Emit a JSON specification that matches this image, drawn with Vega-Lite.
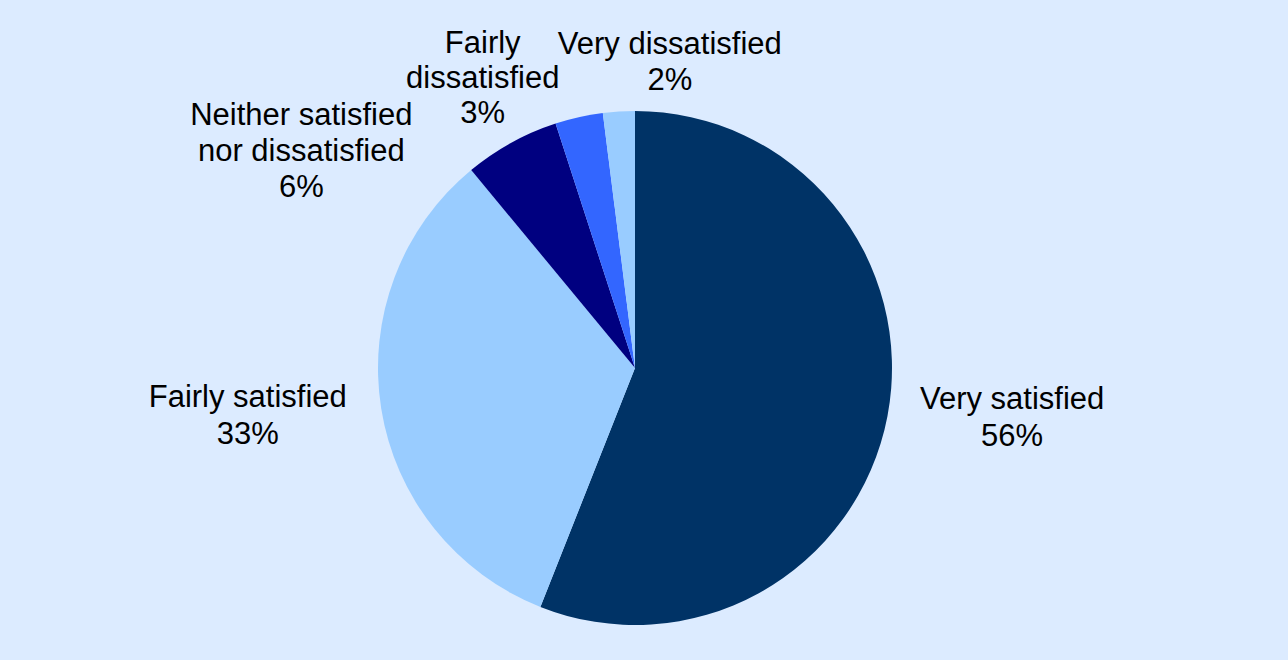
{
  "$schema": "https://vega.github.io/schema/vega-lite/v6.json",
  "width": 1270,
  "height": 584,
  "autosize": "none",
  "padding": {"left": 0, "top": 76, "right": 18, "bottom": 0},
  "background": "#DCEBFF",
  "data": {
    "values": [
      {"rank": 1, "category": "Very satisfied", "label": "Very satisfied", "pct": 56},
      {"rank": 2, "category": "Fairly satisfied", "label": "Fairly satisfied", "pct": 33},
      {"rank": 3, "category": "Neither satisfied nor dissatisfied", "label": "Neither satisfied\nnor dissatisfied", "pct": 6},
      {"rank": 4, "category": "Fairly dissatisfied", "label": "Fairly\ndissatisfied", "pct": 3},
      {"rank": 5, "category": "Very dissatisfied", "label": "Very dissatisfied", "pct": 2}
    ]
  },
  "transform": [
    {"stack": "pct", "groupby": [], "sort": [{"field": "rank", "order": "ascending"}], "as": ["p0", "p1"]},
    {"calculate": "(datum.p0 + datum.p1) / 2", "as": "mid"},
    {"calculate": "datum.label + '\\n' + datum.pct + '%'", "as": "text"}
  ],
  "layer": [
    {
      "mark": {"type": "arc", "outerRadius": 257},
      "encoding": {
        "theta": {"field": "p0", "type": "quantitative", "scale": {"domain": [0, 100]}},
        "theta2": {"field": "p1"},
        "color": {
          "field": "category",
          "type": "nominal",
          "legend": null,
          "scale": {
            "domain": ["Very satisfied", "Fairly satisfied", "Neither satisfied nor dissatisfied", "Fairly dissatisfied", "Very dissatisfied"],
            "range": ["#003366", "#99CCFF", "#000080", "#3366FF", "#99CCFF"]
          }
        }
      }
    },
    {
      "transform": [{"filter": "datum.rank == 1"}],
      "mark": {"type": "text", "radius": 388, "dx": -4, "dy": -41, "font": "Liberation Sans", "fontSize": 31, "lineHeight": 37, "lineBreak": "\n", "color": "black"},
      "encoding": {"theta": {"field": "mid", "type": "quantitative"}, "text": {"field": "text", "type": "nominal"}}
    },
    {
      "transform": [{"filter": "datum.rank == 2"}],
      "mark": {"type": "text", "radius": 388, "dx": -4, "dy": -31, "font": "Liberation Sans", "fontSize": 31, "lineHeight": 37, "lineBreak": "\n", "color": "black"},
      "encoding": {"theta": {"field": "mid", "type": "quantitative"}, "text": {"field": "text", "type": "nominal"}}
    },
    {
      "transform": [{"filter": "datum.rank == 3"}],
      "mark": {"type": "text", "radius": 290, "dx": -194, "dy": 2, "font": "Liberation Sans", "fontSize": 31, "lineHeight": 36, "lineBreak": "\n", "color": "black"},
      "encoding": {"theta": {"field": "mid", "type": "quantitative"}, "text": {"field": "text", "type": "nominal"}}
    },
    {
      "transform": [{"filter": "datum.rank == 4"}],
      "mark": {"type": "text", "radius": 290, "dx": -89, "dy": -41, "font": "Liberation Sans", "fontSize": 31, "lineHeight": 35, "lineBreak": "\n", "color": "black"},
      "encoding": {"theta": {"field": "mid", "type": "quantitative"}, "text": {"field": "text", "type": "nominal"}}
    },
    {
      "transform": [{"filter": "datum.rank == 5"}],
      "mark": {"type": "text", "radius": 290, "dx": 53, "dy": -34, "font": "Liberation Sans", "fontSize": 31, "lineHeight": 36, "lineBreak": "\n", "color": "black"},
      "encoding": {"theta": {"field": "mid", "type": "quantitative"}, "text": {"field": "text", "type": "nominal"}}
    }
  ],
  "view": {"stroke": null}
}
